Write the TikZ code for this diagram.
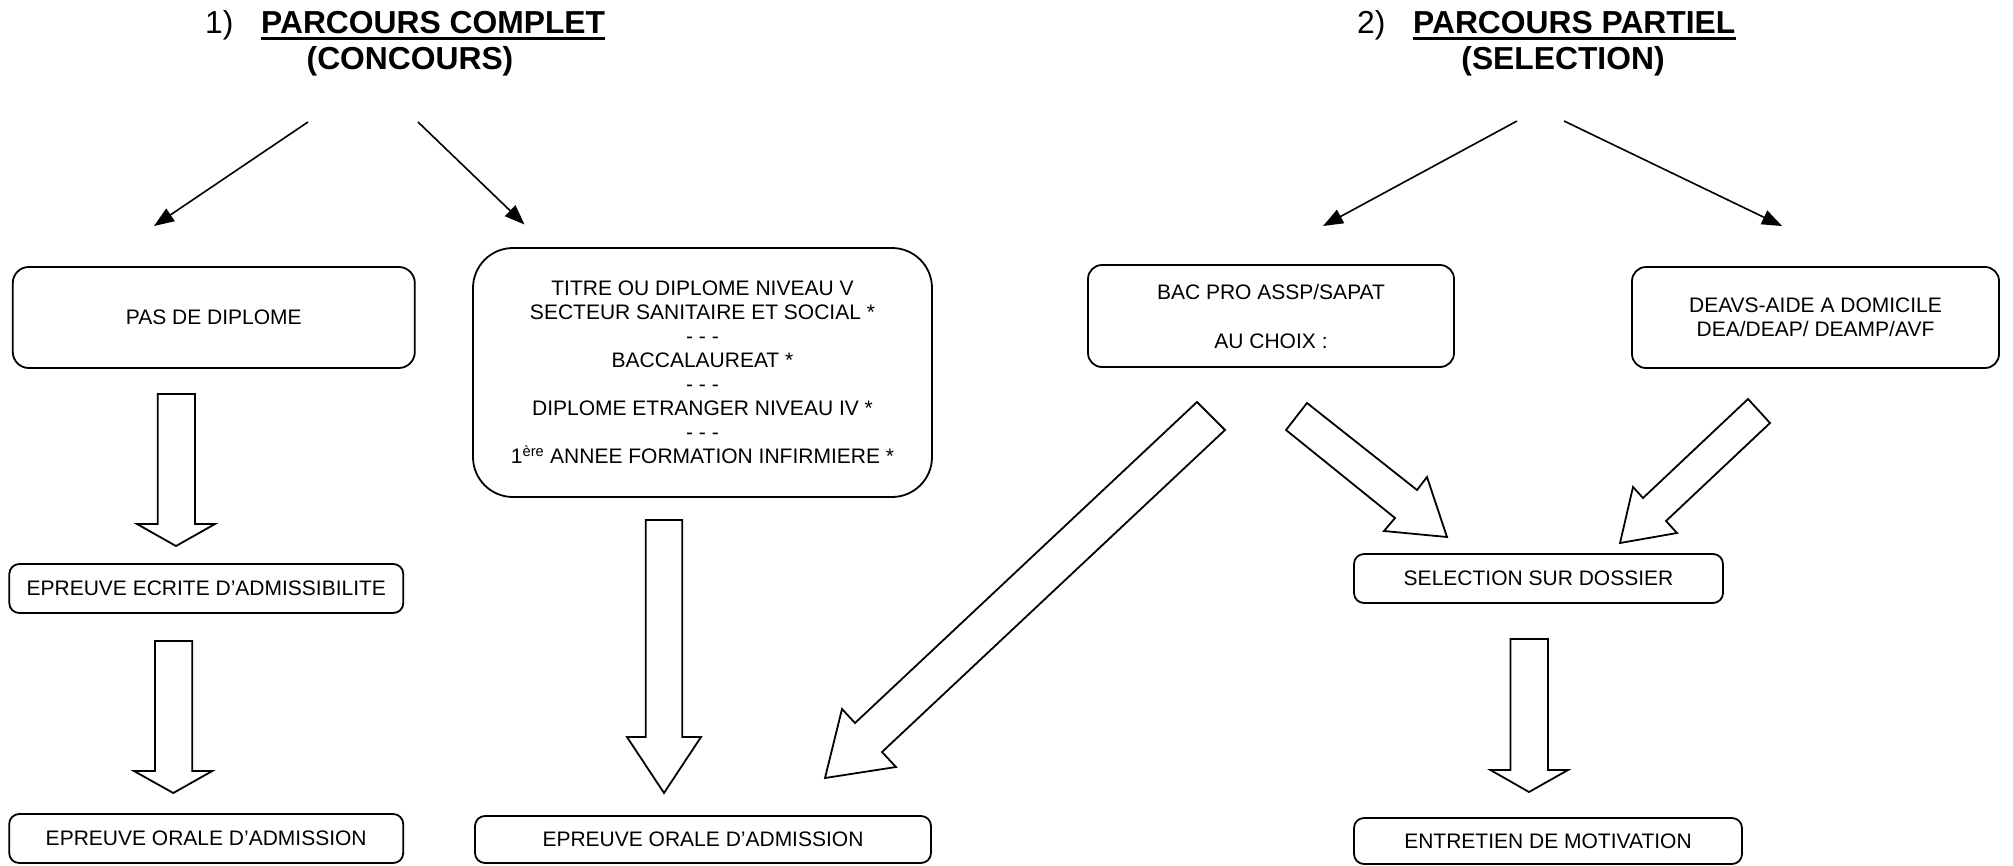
\documentclass[tikz,border=0pt]{standalone}
\usepackage{fontspec}
\setmainfont{Liberation Sans}
\usetikzlibrary{arrows.meta}
\begin{document}
\begin{tikzpicture}[x=1pt,y=-1pt,
  box/.style={draw, line width=1.8pt, rounded corners=#1, inner sep=0pt, align=center,
    font=\fontsize{21}{24}\selectfont},
  box/.default=12pt,
  titlereg/.style={inner sep=0pt, font=\fontsize{31.8}{36}\selectfont},
  titlebold/.style={inner sep=0pt, font=\fontsize{31.8}{36}\selectfont\bfseries},
  linearrow/.style={line width=1.6pt, -{Triangle[length=20pt,width=15pt]}},
  blockarrow/.style={draw, line width=1.8pt, line join=miter, fill=white}]
\useasboundingbox (0,0) rectangle (2013,865);

% ---------- titles ----------
\node[titlereg, anchor=base west] (n1) at (205,33.3) {1)};
\node[titlebold, anchor=base west] (t1) at (261,33.3) {PARCOURS COMPLET};
\draw[line width=2.6pt] ([yshift=-5pt]t1.base west) -- ([yshift=-5pt]t1.base east);
\node[titlebold, anchor=base] (c1) at (410,69) {(CONCOURS)};

\node[titlereg, anchor=base west] (n2) at (1357,33.3) {2)};
\node[titlebold, anchor=base west] (t2) at (1413,33.3) {PARCOURS PARTIEL};
\draw[line width=2.6pt] ([yshift=-5pt]t2.base west) -- ([yshift=-5pt]t2.base east);
\node[titlebold, anchor=base] (c2) at (1563,69) {(SELECTION)};

% ---------- boxes ----------
\node[box=16pt, minimum width=402pt, minimum height=101pt] (pas) at (213.8,317.5) {PAS DE DIPLOME};
\node[box=40pt, minimum width=459pt, minimum height=249pt] (titre) at (702.5,372.5)
  {TITRE OU DIPLOME NIVEAU V\\SECTEUR SANITAIRE ET SOCIAL *\\- - -\\BACCALAUREAT *\\- - -\\DIPLOME ETRANGER NIVEAU IV *\\- - -\\1\textsuperscript{ère} ANNEE FORMATION INFIRMIERE *};
\node[box=10pt, minimum width=394pt, minimum height=49pt] (ecrite) at (206.3,588.5) {EPREUVE ECRITE D’ADMISSIBILITE};
\node[box=10pt, minimum width=394pt, minimum height=49pt] (oraleL) at (206.2,838.5) {EPREUVE ORALE D’ADMISSION};
\node[box=10pt, minimum width=456pt, minimum height=47pt] (oraleM) at (703,839.5) {EPREUVE ORALE D’ADMISSION};
\node[box=14pt, minimum width=366pt, minimum height=102pt] (bac) at (1271,316) {BAC PRO ASSP/SAPAT\\[25pt]AU CHOIX :};
\node[box=14pt, minimum width=367pt, minimum height=101pt] (deavs) at (1815.5,317.5) {DEAVS-AIDE A DOMICILE\\DEA/DEAP/ DEAMP/AVF};
\node[box=10pt, minimum width=369pt, minimum height=49pt] (sel) at (1538.5,578.5) {SELECTION SUR DOSSIER};
\node[box=10pt, minimum width=388pt, minimum height=46pt] (entr) at (1548,841) {ENTRETIEN DE MOTIVATION};

% ---------- thin arrows ----------
\coordinate (a1s) at (308,122);  \coordinate (a1e) at (154,226);
\coordinate (a2s) at (418,122);  \coordinate (a2e) at (524.5,224.5);
\coordinate (a3s) at (1517,121); \coordinate (a3e) at (1323,226);
\coordinate (a4s) at (1564,121); \coordinate (a4e) at (1782,226);
\draw[linearrow] (a1s) -- (a1e);
\draw[linearrow] (a2s) -- (a2e);
\draw[linearrow] (a3s) -- (a3e);
\draw[linearrow] (a4s) -- (a4e);

% ---------- block arrows ----------
\draw[blockarrow] (157.7,394) -- (195,394) -- (195,524) -- (215,524) -- (176,546) -- (137,524) -- (157.7,524) -- cycle;
\draw[blockarrow] (155,641) -- (192.3,641) -- (192.3,771) -- (212.3,771) -- (173.3,793) -- (134,771) -- (155,771) -- cycle;
\draw[blockarrow] (645.7,520) -- (682.3,520) -- (682.3,737) -- (701,737) -- (664,793) -- (627,737) -- (645.7,737) -- cycle;
\draw[blockarrow] (1510.5,639) -- (1548,639) -- (1548,770) -- (1568,770) -- (1529,792) -- (1490.5,770) -- (1510.5,770) -- cycle;
\draw[blockarrow] (1197,402) -- (1225,430) -- (882,752) -- (896,767) -- (825,778) -- (842,709) -- (855,723) -- cycle;
\draw[blockarrow] (1307,403) -- (1417,490) -- (1427,477) -- (1447,537) -- (1384,531) -- (1395,518) -- (1286,430) -- cycle;
\draw[blockarrow] (1748,399) -- (1770,423) -- (1666,521) -- (1677,533) -- (1620,543) -- (1633,487) -- (1643,498) -- cycle;
\end{tikzpicture}
\end{document}
